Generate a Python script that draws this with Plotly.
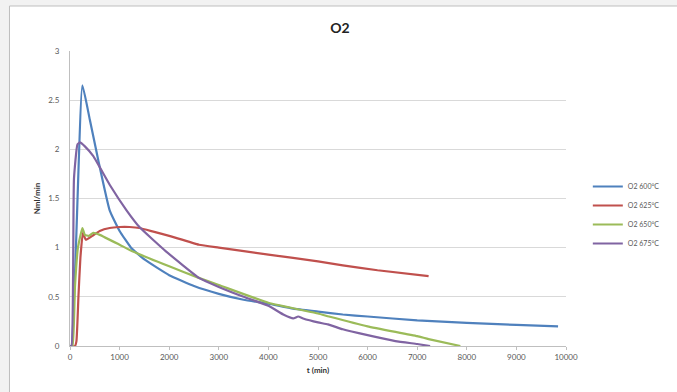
import plotly.graph_objects as go

# O2 flow over time at four temperatures
t_600 = [0, 30, 250, 400, 570, 800, 1000, 1230, 1500, 2000, 2500, 3000, 3500, 4000,
         4500, 5000, 5500, 6000, 7000, 8000, 9000, 9840]
o2_600 = [0, 0, 2.65, 2.3, 1.89, 1.38, 1.17, 1.0, 0.88, 0.72, 0.61, 0.53, 0.47, 0.43,
          0.38, 0.35, 0.32, 0.3, 0.26, 0.235, 0.215, 0.2]

t_625 = [0, 100, 130, 170, 210, 260, 320, 450, 600, 800, 1000, 1200, 1400, 1700, 2000,
         2600, 3000, 4000, 5000, 5500, 6200, 7230]
o2_625 = [0, 0, 0.05, 0.5, 0.9, 1.15, 1.08, 1.12, 1.17, 1.2, 1.21, 1.21, 1.2, 1.16, 1.12,
          1.03, 1.0, 0.93, 0.86, 0.82, 0.77, 0.71]

t_650 = [0, 50, 100, 160, 250, 300, 380, 470, 600, 1000, 1270, 2000, 2610, 3000, 4000,
         5000, 5220, 6000, 7000, 7230, 7870]
o2_650 = [0, 0, 0.6, 1.0, 1.2, 1.13, 1.12, 1.15, 1.13, 1.03, 0.96, 0.81, 0.69, 0.62, 0.44,
          0.33, 0.3, 0.2, 0.1, 0.07, 0]

t_675 = [0, 30, 80, 150, 200, 300, 470, 800, 1140, 1400, 1940, 2610, 3000, 3500, 4000,
         4300, 4500, 4600, 4700, 5000, 5200, 5500, 6000, 6560, 7000, 7260]
o2_675 = [0, 0, 1.7, 2.05, 2.07, 2.03, 1.93, 1.64, 1.38, 1.21, 0.96, 0.69, 0.6, 0.5, 0.41,
          0.32, 0.28, 0.3, 0.28, 0.24, 0.22, 0.17, 0.11, 0.05, 0.02, 0]

series = [
    ("O2 600°C", t_600, o2_600, "#4F81BD"),
    ("O2 625°C", t_625, o2_625, "#C0504D"),
    ("O2 650°C", t_650, o2_650, "#9BBB59"),
    ("O2 675°C", t_675, o2_675, "#8064A2"),
]

x_ticks = list(range(0, 10001, 1000))
x_tick_text = [str(v) for v in x_ticks]
y_ticks = [0, 0.5, 1, 1.5, 2, 2.5, 3]
y_tick_text = ["0", "0.5", "1", "1.5", "2", "2.5", "3"]

FONT = "Lato, 'Liberation Sans', sans-serif"

fig = go.Figure()
for name, t, v, color in series:
    fig.add_trace(go.Scatter(x=t, y=v, mode="lines", name=name,
                             line=dict(color=color, width=2.2,
                                       shape="spline", smoothing=0.4)))

W, H = 677, 392
L, R, T, B = 70, 107, 51, 46
pw, ph = W - L - R, H - T - B

def px(x):
    return (x - L) / pw

def py(y):
    return (H - B - y) / ph

# chart frame
fig.add_shape(type="rect", xref="paper", yref="paper", layer="below",
              x0=px(9), x1=px(W + 20), y0=py(H + 20), y1=py(6),
              fillcolor="white", line=dict(color="#BFBFBF", width=1))

fig.update_layout(
    width=W, height=H,
    margin=dict(l=L, r=R, t=T, b=B),
    paper_bgcolor="#F2F2F2",
    plot_bgcolor="rgba(0,0,0,0)",
    font=dict(family=FONT, color="#595959", size=8),
    title=dict(text="<b>O2</b>", x=340 / W, xanchor="center", xref="container",
               y=1 - 28 / H, yanchor="middle", yref="container",
               font=dict(size=14, color="#222222", family=FONT)),
    xaxis=dict(range=[0, 10000], tickvals=x_ticks, ticktext=x_tick_text,
               showgrid=False, zeroline=False,
               showline=True, linecolor="#BFBFBF", linewidth=1,
               ticks="outside", ticklen=3, tickcolor="#BFBFBF",
               tickfont=dict(size=8, color="#595959"),
               title=dict(text="<b>t (min)</b>", standoff=6,
                          font=dict(size=8, color="#333333"))),
    yaxis=dict(range=[0, 3], tickvals=y_ticks, ticktext=y_tick_text,
               showgrid=True, gridcolor="#D9D9D9", gridwidth=1, zeroline=False,
               showline=True, linecolor="#BFBFBF", linewidth=1,
               ticks="", ticklabelstandoff=8,
               tickfont=dict(size=8, color="#595959"),
               title=dict(text="<b>Nml/min</b>", standoff=6,
                          font=dict(size=8, color="#333333"))),
    legend=dict(x=px(592), xanchor="left", y=py(172), yanchor="top",
                bgcolor="rgba(0,0,0,0)", font=dict(size=7, color="#595959"),
                tracegroupgap=0, itemwidth=30),
    showlegend=True,
)

fig.write_html("out.html")
